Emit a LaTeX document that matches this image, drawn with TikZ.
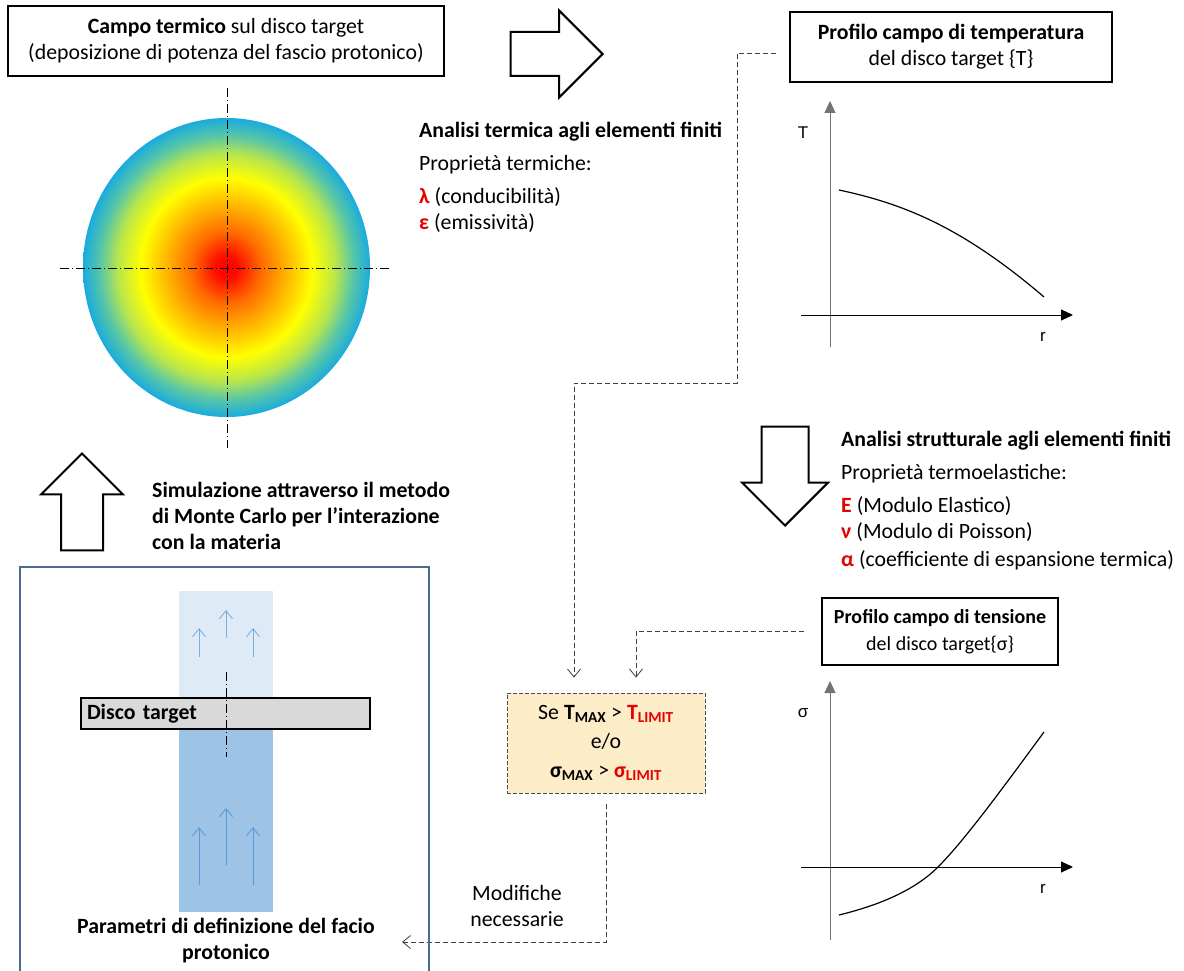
\documentclass[tikz,border=0pt]{standalone}
\usepackage{fontspec}
\setmainfont{Carlito}
\setsansfont{Liberation Sans}
\usetikzlibrary{arrows.meta,shapes.arrows,positioning}

\definecolor{limred}{RGB}{230,0,0}
\definecolor{condfill}{RGB}{253,236,200}
\definecolor{frameblue}{RGB}{72,108,150}
\definecolor{beamlight}{RGB}{222,235,247}
\definecolor{beamdark}{RGB}{157,195,230}
\definecolor{beamarrow}{RGB}{91,155,213}
\definecolor{discgray}{RGB}{217,217,217}

\pgfdeclareradialshading{heatmap}{\pgfpoint{0bp}{0bp}}{rgb(0bp)=(1,0,0); rgb(2bp)=(1,0.05,0); rgb(6bp)=(1,0.42,0); rgb(10bp)=(1,0.68,0); rgb(15bp)=(1,1,0); rgb(19bp)=(0.72,0.9,0.3); rgb(22bp)=(0.35,0.78,0.65); rgb(25bp)=(0.1,0.67,0.87); rgb(50bp)=(0.1,0.67,0.87)}

\begin{document}
\begin{tikzpicture}[x=1pt, y=-1pt, font=\fontsize{21.8}{26}\selectfont, >={Straight Barb[length=8pt,width=13pt]}]
    \useasboundingbox (0,0) rectangle (1184,971);
    \tikzstyle{titlebox} = [draw, line width=1.6pt, align=center, inner sep=0pt]
    \tikzstyle{bigarrow} = [draw, line width=2pt, fill=white, single arrow, single arrow head indent=0pt, anchor=tip]
    \tikzstyle{dashlink} = [->, dash pattern=on 5pt off 3pt, line width=0.8pt, black!75]
    \tikzstyle{condbox} = [draw=black!70, dash pattern=on 4pt off 2pt, line width=0.8pt, fill=condfill, align=center]
    \tikzstyle{axis} = [-{Triangle[length=12pt,width=11pt]}, line width=1pt]
    \tikzstyle{axlabel} = [font=\sffamily\fontsize{17}{17}\selectfont]
    \tikzstyle{infotext} = [align=left, anchor=north west, inner sep=0pt]
    \tikzstyle{centerline} = [dash pattern=on 9pt off 3pt on 1pt off 3pt, line width=0.8pt]
    \tikzstyle{beamtip} = [->, beamarrow, line width=0.9pt]

    \node[titlebox, minimum width=436pt, minimum height=70pt] (campo) at (226,41) {\textbf{Campo termico} sul disco target\\(deposizione di potenza del fascio protonico)};
    \shade[shading=heatmap] (226.5,267.5) ellipse [x radius=143.5, y radius=149.5];
    \draw[centerline] (227,88) -- (227,448);
    \draw[centerline] (60,268) -- (390,268);

    \node[bigarrow, minimum height=92pt, inner xsep=0pt, inner ysep=21pt, single arrow head extend=21.5pt] (arrowterm) at (604,54) {};
    \node[infotext] (termica) at (419,122) {\textbf{Analisi termica agli elementi finiti}\\[7pt]
        Proprietà termiche:\\[7pt]
        \textcolor{limred}{\textbf{λ}} (conducibilità)\\
        \textcolor{limred}{\textbf{ε}} (emissività)};

    \node[titlebox, minimum width=322pt, minimum height=70pt] (proft) at (951,47) {\textbf{Profilo campo di temperatura}\\del disco target \{T\}};
    \draw[axis, black!55] (830,347) -- (830,101);
    \draw[axis] (801,315) -- (1073,315);
    \node[axlabel] (tlab) at (803,133) {T};
    \node[axlabel] (rlabt) at (1043,337) {r};
    \draw[line width=1.2pt] (839,190) .. controls (900,203) and (960,225) .. (1044,297);

    \node[bigarrow, shape border rotate=270, minimum height=99pt, inner xsep=22.5pt, inner ysep=0pt, single arrow head extend=19.5pt] (arrowstrut) at (785,527) {};
    \node[infotext] (strutt) at (841,431) {\textbf{Analisi strutturale agli elementi finiti}\\[7pt]
        Proprietà termoelastiche:\\[7pt]
        \textcolor{limred}{\textbf{E}} (Modulo Elastico)\\
        \textcolor{limred}{\textbf{ν}} (Modulo di Poisson)\\[2pt]
        \textcolor{limred}{\textbf{α}} (coefficiente di espansione termica)};

    \node[titlebox, minimum width=236pt, minimum height=67pt, font=\fontsize{20}{27}\selectfont] (profs) at (940,631.5) {\textbf{Profilo campo di tensione}\\del disco target\{σ\}};
    \draw[axis, black!55] (830,940) -- (830,681);
    \draw[axis] (801,867) -- (1073,867);
    \node[axlabel] (slab) at (803,713) {σ};
    \node[axlabel] (rlabs) at (1043,889) {r};
    \draw[line width=1.2pt] (839,915) .. controls (880,905) and (915,890) .. (938,867) .. controls (965,840) and (1005,785) .. (1044,732);

    \node[condbox, minimum width=198pt, minimum height=100pt] (cond) at (606,743) {Se \textbf{T\textsubscript{MAX}} > \textcolor{limred}{\textbf{T\textsubscript{LIMIT}}}\\[3pt]
        e/o\\[3pt]
        \textbf{σ\textsubscript{MAX}} > \textcolor{limred}{\textbf{σ\textsubscript{LIMIT}}}};

    \coordinate (tstart) at (776,53);
    \coordinate (sstart) at ([xshift=-17pt]profs.west);
    \coordinate (modend) at (402,942);
    \draw[dashlink] (tstart) -| (737,383) -| ([xshift=-32pt,yshift=15pt]cond.north);
    \draw[dashlink] (sstart) -| ([xshift=30pt,yshift=15pt]cond.north);
    \draw[dashlink] ([yshift=-11pt]cond.south) |- (modend);
    \node[align=center] (modif) at (517,906) {Modifiche\\necessarie};

    \node[bigarrow, shape border rotate=90, minimum height=97pt, inner xsep=20pt, inner ysep=0pt, single arrow head extend=20pt] (arrowmc) at (82,452) {};
    \node[infotext] (montecarlo) at (152,482) {\textbf{Simulazione attraverso il metodo}\\
        \textbf{di Monte Carlo per l’interazione}\\
        \textbf{con la materia}};

    \draw[frameblue, line width=1.5pt] (20,985) -- (20,567) -- (429,567) -- (429,985);
    \fill[beamlight] (179,591) rectangle (273,698);
    \fill[beamdark] (179,698) rectangle (273,912);
    \foreach \x/\a/\b in {199/657/628, 226/638/610, 253/657/628}
        \draw[beamtip, opacity=0.75] (\x,\a) -- (\x,\b);
    \foreach \x/\a/\b in {199/885/827, 226/865/808, 253/885/827}
        \draw[beamtip] (\x,\a) -- (\x,\b);
    \node[draw, line width=1.5pt, fill=discgray, minimum width=289pt, minimum height=31pt, text width=277pt, inner xsep=6pt, inner ysep=0pt, align=left] (disco) at (225.5,713.5) {\textbf{Disco target}};
    \draw[centerline] (226,672) -- (226,757);
    \node[align=center] (param) at (226,941) {\textbf{Parametri di definizione del facio}\\\textbf{protonico}};
\end{tikzpicture}
\end{document}
